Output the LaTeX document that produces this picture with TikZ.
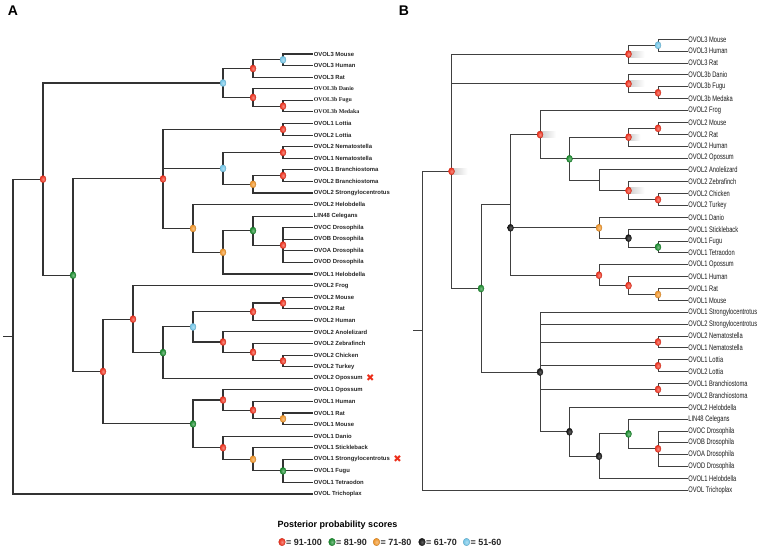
\documentclass[tikz,border=0pt]{standalone}
\usepackage{fontspec}
\setmainfont{Liberation Sans}
\newfontfamily\timesfam{Liberation Serif}
\newfontfamily\narrowfam[FakeStretch=0.72]{Liberation Sans}
\newfontfamily\symfam{DejaVu Sans}
\usetikzlibrary{positioning,shapes.geometric}
\definecolor{c91}{RGB}{236,45,25}
\definecolor{c81}{RGB}{20,135,40}
\definecolor{c71}{RGB}{238,145,35}
\definecolor{c61}{RGB}{20,20,20}
\definecolor{c51}{RGB}{110,195,230}
\tikzset{
  pp/.style={ellipse,inner sep=0pt,minimum width=6pt,minimum height=7.2pt},
  gloss/.style={pp,inner color=#1!55!white,outer color=#1,draw=#1!80!black,line width=0.3pt},
  p91/.style={gloss=c91},
  p81/.style={gloss=c81},
  p71/.style={gloss=c71},
  p61/.style={gloss=c61,inner color=black!62},
  p51/.style={gloss=c51},
  legdot/.style={minimum width=6.6pt,minimum height=7.6pt},
  leafA/.style={anchor=west,inner sep=0.6pt,text=black!85,font=\fontsize{5.9}{6}\selectfont\bfseries},
  leafAs/.style={leafA,font=\fontsize{5.9}{6}\timesfam\bfseries},
  leafB/.style={anchor=west,inner sep=0.6pt,text=black!90,font=\fontsize{8}{8}\narrowfam},
  edgeA/.style={line width=1.1pt,draw=black!80},
  edgeB/.style={line width=0.95pt,draw=black!75},
  glow/.style={left color=black!20,right color=white},
  panel/.style={font=\fontsize{14}{14}\selectfont\bfseries},
  legtitle/.style={font=\fontsize{9}{9}\selectfont\bfseries},
  legtext/.style={inner sep=0.5pt,font=\fontsize{9}{9}\selectfont\bfseries,text=black!85},
  xmark/.style={inner sep=0pt,text=c91,font=\fontsize{10}{10}\symfam}
}
\begin{document}
\begin{tikzpicture}[x=1pt,y=-1pt]
	\useasboundingbox (0,0) rectangle (760,555);
	\node[panel] (labA) at (13,11) {A};
	\node[panel] (labB) at (404,11) {B};
	% tree A, leaves
	\path (313,54) node[leafA] (a0) {OVOL3 Mouse}
	++(0,11.58) node[leafA] (a1) {OVOL3 Human}
	++(0,11.58) node[leafA] (a2) {OVOL3 Rat}
	++(0,11.58) node[leafAs] (a3) {OVOL3b Danio}
	++(0,11.58) node[leafAs] (a4) {OVOL3b Fugu}
	++(0,11.58) node[leafAs] (a5) {OVOL3b Medaka}
	++(0,11.58) node[leafA] (a6) {OVOL1 Lottia}
	++(0,11.58) node[leafA] (a7) {OVOL2 Lottia}
	++(0,11.58) node[leafA] (a8) {OVOL2 Nematostella}
	++(0,11.58) node[leafA] (a9) {OVOL1 Nematostella}
	++(0,11.58) node[leafA] (a10) {OVOL1 Branchiostoma}
	++(0,11.58) node[leafA] (a11) {OVOL2 Branchiostoma}
	++(0,11.58) node[leafA] (a12) {OVOL2 Strongylocentrotus}
	++(0,11.58) node[leafA] (a13) {OVOL2 Helobdella}
	++(0,11.58) node[leafA] (a14) {LIN48 Celegans}
	++(0,11.58) node[leafA] (a15) {OVOC Drosophila}
	++(0,11.58) node[leafA] (a16) {OVOB Drosophila}
	++(0,11.58) node[leafA] (a17) {OVOA Drosophila}
	++(0,11.58) node[leafA] (a18) {OVOD Drosophila}
	++(0,11.58) node[leafA] (a19) {OVOL1 Helobdella}
	++(0,11.58) node[leafA] (a20) {OVOL2 Frog}
	++(0,11.58) node[leafA] (a21) {OVOL2 Mouse}
	++(0,11.58) node[leafA] (a22) {OVOL2 Rat}
	++(0,11.58) node[leafA] (a23) {OVOL2 Human}
	++(0,11.58) node[leafA] (a24) {OVOL2 Anolelizard}
	++(0,11.58) node[leafA] (a25) {OVOL2 Zebrafinch}
	++(0,11.58) node[leafA] (a26) {OVOL2 Chicken}
	++(0,11.58) node[leafA] (a27) {OVOL2 Turkey}
	++(0,11.58) node[leafA] (a28) {OVOL2 Opossum}
	++(0,11.58) node[leafA] (a29) {OVOL1 Opossum}
	++(0,11.58) node[leafA] (a30) {OVOL1 Human}
	++(0,11.58) node[leafA] (a31) {OVOL1 Rat}
	++(0,11.58) node[leafA] (a32) {OVOL1 Mouse}
	++(0,11.58) node[leafA] (a33) {OVOL1 Danio}
	++(0,11.58) node[leafA] (a34) {OVOL1 Stickleback}
	++(0,11.58) node[leafA] (a35) {OVOL1 Strongylocentrotus}
	++(0,11.58) node[leafA] (a36) {OVOL1 Fugu}
	++(0,11.58) node[leafA] (a37) {OVOL1 Tetraodon}
	++(0,11.58) node[leafA] (a38) {OVOL Trichoplax};
	\node[xmark,right=2.5pt of a28] (x28) {✖};
	\node[xmark,right=2.5pt of a35] (x35) {✖};
	% tree A, inner nodes
	\path (283,59.8) coordinate (n3m)
	(253,68.5) coordinate (n3)
	(283,106.1) coordinate (n3bf)
	(253,97.4) coordinate (n3b)
	(223,83) coordinate (n3all)
	(283,129.3) coordinate (nlot)
	(283,152.4) coordinate (nnem)
	(283,175.6) coordinate (nbra)
	(253,184.3) coordinate (nbs)
	(223,168.4) coordinate (nnb)
	(283,245.1) coordinate (ndro)
	(253,230.6) coordinate (ncel)
	(223,252.3) coordinate (nhel)
	(193,228.4) coordinate (nhel2)
	(163,178.9) coordinate (ninv)
	(283,303) coordinate (nm2)
	(253,311.7) coordinate (nmh)
	(283,360.9) coordinate (nct)
	(253,352.2) coordinate (nzf)
	(223,342) coordinate (nan)
	(193,326.9) coordinate (nmam)
	(163,352.6) coordinate (nop2)
	(133,319.1) coordinate (nfr)
	(283,418.8) coordinate (nrm1)
	(253,410.1) coordinate (nhu1)
	(223,400) coordinate (nop1)
	(283,470.9) coordinate (nfg1)
	(253,459.3) coordinate (nst1)
	(223,447.7) coordinate (nda1)
	(193,423.9) coordinate (nv1)
	(103,371.5) coordinate (nvert)
	(73,275.2) coordinate (nbil)
	(43,179.1) coordinate (nin)
	(13,336.6) coordinate (rootA)
	(3,336.6) coordinate (stubA);
	\draw[edgeA] (stubA) -- (rootA);
	\draw[edgeA] (rootA) |- (nin) (rootA) |- (a38.west);
	\draw[edgeA] (nin) |- (n3all) (nin) |- (nbil);
	\draw[edgeA] (n3all) |- (n3) (n3all) |- (n3b);
	\draw[edgeA] (n3) |- (n3m) (n3) |- (a2.west);
	\draw[edgeA] (n3m) |- (a0.west) (n3m) |- (a1.west);
	\draw[edgeA] (n3b) |- (a3.west) (n3b) |- (n3bf);
	\draw[edgeA] (n3bf) |- (a4.west) (n3bf) |- (a5.west);
	\draw[edgeA] (nbil) |- (ninv) (nbil) |- (nvert);
	\draw[edgeA] (ninv) |- (nlot) (ninv) |- (nnb) (ninv) |- (nhel2);
	\draw[edgeA] (nlot) |- (a6.west) (nlot) |- (a7.west);
	\draw[edgeA] (nnb) |- (nnem) (nnb) |- (nbs);
	\draw[edgeA] (nnem) |- (a8.west) (nnem) |- (a9.west);
	\draw[edgeA] (nbs) |- (nbra) (nbs) |- (a12.west);
	\draw[edgeA] (nbra) |- (a10.west) (nbra) |- (a11.west);
	\draw[edgeA] (nhel2) |- (a13.west) (nhel2) |- (nhel);
	\draw[edgeA] (nhel) |- (ncel) (nhel) |- (a19.west);
	\draw[edgeA] (ncel) |- (a14.west) (ncel) |- (ndro);
	\draw[edgeA] (ndro) |- (a15.west) (ndro) |- (a16.west) (ndro) |- (a17.west) (ndro) |- (a18.west);
	\draw[edgeA] (nvert) |- (nfr) (nvert) |- (nv1);
	\draw[edgeA] (nfr) |- (a20.west) (nfr) |- (nop2);
	\draw[edgeA] (nop2) |- (nmam) (nop2) |- (a28.west);
	\draw[edgeA] (nmam) |- (nmh) (nmam) |- (nan);
	\draw[edgeA] (nmh) |- (nm2) (nmh) |- (a23.west);
	\draw[edgeA] (nm2) |- (a21.west) (nm2) |- (a22.west);
	\draw[edgeA] (nan) |- (a24.west) (nan) |- (nzf);
	\draw[edgeA] (nzf) |- (a25.west) (nzf) |- (nct);
	\draw[edgeA] (nct) |- (a26.west) (nct) |- (a27.west);
	\draw[edgeA] (nv1) |- (nop1) (nv1) |- (nda1);
	\draw[edgeA] (nop1) |- (a29.west) (nop1) |- (nhu1);
	\draw[edgeA] (nhu1) |- (a30.west) (nhu1) |- (nrm1);
	\draw[edgeA] (nrm1) |- (a31.west) (nrm1) |- (a32.west);
	\draw[edgeA] (nda1) |- (a33.west) (nda1) |- (nst1);
	\draw[edgeA] (nst1) |- (a34.west) (nst1) |- (nfg1);
	\draw[edgeA] (nfg1) |- (a35.west) (nfg1) |- (a36.west) (nfg1) |- (a37.west);
	\path (n3m) node[p51] (dn3m) {}
	(n3) node[p91] (dn3) {}
	(n3bf) node[p91] (dn3bf) {}
	(n3b) node[p91] (dn3b) {}
	(n3all) node[p51] (dn3all) {}
	(nlot) node[p91] (dnlot) {}
	(nnem) node[p91] (dnnem) {}
	(nbra) node[p91] (dnbra) {}
	(nbs) node[p71] (dnbs) {}
	(nnb) node[p51] (dnnb) {}
	(ndro) node[p91] (dndro) {}
	(ncel) node[p81] (dncel) {}
	(nhel) node[p71] (dnhel) {}
	(nhel2) node[p71] (dnhel2) {}
	(ninv) node[p91] (dninv) {}
	(nm2) node[p91] (dnm2) {}
	(nmh) node[p91] (dnmh) {}
	(nct) node[p91] (dnct) {}
	(nzf) node[p91] (dnzf) {}
	(nan) node[p91] (dnan) {}
	(nmam) node[p51] (dnmam) {}
	(nop2) node[p81] (dnop2) {}
	(nfr) node[p91] (dnfr) {}
	(nrm1) node[p71] (dnrm1) {}
	(nhu1) node[p91] (dnhu1) {}
	(nop1) node[p91] (dnop1) {}
	(nfg1) node[p81] (dnfg1) {}
	(nst1) node[p71] (dnst1) {}
	(nda1) node[p91] (dnda1) {}
	(nv1) node[p81] (dnv1) {}
	(nvert) node[p91] (dnvert) {}
	(nbil) node[p81] (dnbil) {}
	(nin) node[p91] (dnin) {};
	% tree B, leaves
	\path (687.5,39.3) node[leafB] (b0) {OVOL3 Mouse}
	++(0,11.87) node[leafB] (b1) {OVOL3 Human}
	++(0,11.87) node[leafB] (b2) {OVOL3 Rat}
	++(0,11.87) node[leafB] (b3) {OVOL3b Danio}
	++(0,11.87) node[leafB] (b4) {OVOL3b Fugu}
	++(0,11.87) node[leafB] (b5) {OVOL3b Medaka}
	++(0,11.87) node[leafB] (b6) {OVOL2 Frog}
	++(0,11.87) node[leafB] (b7) {OVOL2 Mouse}
	++(0,11.87) node[leafB] (b8) {OVOL2 Rat}
	++(0,11.87) node[leafB] (b9) {OVOL2 Human}
	++(0,11.87) node[leafB] (b10) {OVOL2 Opossum}
	++(0,11.87) node[leafB] (b11) {OVOL2 Anolelizard}
	++(0,11.87) node[leafB] (b12) {OVOL2 Zebrafinch}
	++(0,11.87) node[leafB] (b13) {OVOL2 Chicken}
	++(0,11.87) node[leafB] (b14) {OVOL2 Turkey}
	++(0,11.87) node[leafB] (b15) {OVOL1 Danio}
	++(0,11.87) node[leafB] (b16) {OVOL1 Stickleback}
	++(0,11.87) node[leafB] (b17) {OVOL1 Fugu}
	++(0,11.87) node[leafB] (b18) {OVOL1 Tetraodon}
	++(0,11.87) node[leafB] (b19) {OVOL1 Opossum}
	++(0,11.87) node[leafB] (b20) {OVOL1 Human}
	++(0,11.87) node[leafB] (b21) {OVOL1 Rat}
	++(0,11.87) node[leafB] (b22) {OVOL1 Mouse}
	++(0,11.87) node[leafB] (b23) {OVOL1 Strongylocentrotus}
	++(0,11.87) node[leafB] (b24) {OVOL2 Strongylocentrotus}
	++(0,11.87) node[leafB] (b25) {OVOL2 Nematostella}
	++(0,11.87) node[leafB] (b26) {OVOL1 Nematostella}
	++(0,11.87) node[leafB] (b27) {OVOL1 Lottia}
	++(0,11.87) node[leafB] (b28) {OVOL2 Lottia}
	++(0,11.87) node[leafB] (b29) {OVOL1 Branchiostoma}
	++(0,11.87) node[leafB] (b30) {OVOL2 Branchiostoma}
	++(0,11.87) node[leafB] (b31) {OVOL2 Helobdella}
	++(0,11.87) node[leafB] (b32) {LIN48 Celegans}
	++(0,11.87) node[leafB] (b33) {OVOC Drosophila}
	++(0,11.87) node[leafB] (b34) {OVOB Drosophila}
	++(0,11.87) node[leafB] (b35) {OVOA Drosophila}
	++(0,11.87) node[leafB] (b36) {OVOD Drosophila}
	++(0,11.87) node[leafB] (b37) {OVOL1 Helobdella}
	++(0,11.87) node[leafB] (b38) {OVOL Trichoplax};
	% tree B, inner nodes
	\path (658,45.25) coordinate (m3m)
	(628.5,54.1) coordinate (m3)
	(658,92.75) coordinate (m3bf)
	(628.5,83.8) coordinate (m3b)
	(658,128.35) coordinate (m2mr)
	(628.5,137.2) coordinate (m2h)
	(658,199.55) coordinate (m2ct)
	(628.5,190.6) coordinate (m2zf)
	(599,180.3) coordinate (m2an)
	(569.5,158.8) coordinate (m2op)
	(540,134.6) coordinate (m2fr)
	(658,247.05) coordinate (m1ft)
	(628.5,238.1) coordinate (m1st)
	(599,227.8) coordinate (m1da)
	(658,294.5) coordinate (m1rm)
	(628.5,285.6) coordinate (m1hu)
	(599,275.2) coordinate (m1op)
	(510.5,204.9) coordinate (mvert)
	(658,342) coordinate (mnem)
	(658,365.75) coordinate (mlot)
	(658,389.45) coordinate (mbra)
	(658,448.8) coordinate (mdro)
	(628.5,433.95) coordinate (mcel)
	(599,456.2) coordinate (mhel)
	(569.5,431.75) coordinate (mhel2)
	(540,372) coordinate (minv)
	(481,288.5) coordinate (mbil)
	(451.5,171.3) coordinate (m3all)
	(422,330.85) coordinate (rootB)
	(413,330.85) coordinate (stubB);
	\shade[glow] ([yshift=3pt]m3all) rectangle ([xshift=16pt,yshift=-3pt]m3all);
	\shade[glow] ([yshift=3pt]m3) rectangle ([xshift=16pt,yshift=-3pt]m3);
	\shade[glow] ([yshift=3pt]m3b) rectangle ([xshift=16pt,yshift=-3pt]m3b);
	\shade[glow] ([yshift=3pt]m2fr) rectangle ([xshift=16pt,yshift=-3pt]m2fr);
	\shade[glow] ([yshift=3pt]m2zf) rectangle ([xshift=16pt,yshift=-3pt]m2zf);
	\shade[glow] ([yshift=3pt]m2h) rectangle ([xshift=12pt,yshift=-3pt]m2h);
	\draw[edgeB] (stubB) -- (rootB);
	\draw[edgeB] (rootB) |- (m3all) (rootB) |- (b38.west);
	\draw[edgeB] (m3all) |- (m3) (m3all) |- (m3b) (m3all) |- (mbil);
	\draw[edgeB] (m3) |- (m3m) (m3) |- (b2.west);
	\draw[edgeB] (m3m) |- (b0.west) (m3m) |- (b1.west);
	\draw[edgeB] (m3b) |- (b3.west) (m3b) |- (m3bf);
	\draw[edgeB] (m3bf) |- (b4.west) (m3bf) |- (b5.west);
	\draw[edgeB] (mbil) |- (mvert) (mbil) |- (minv);
	\draw[edgeB] (mvert) |- (m2fr) (mvert) |- (m1da) (mvert) |- (m1op);
	\draw[edgeB] (m2fr) |- (b6.west) (m2fr) |- (m2op);
	\draw[edgeB] (m2op) |- (m2h) (m2op) |- (b10.west) (m2op) |- (m2an);
	\draw[edgeB] (m2h) |- (m2mr) (m2h) |- (b9.west);
	\draw[edgeB] (m2mr) |- (b7.west) (m2mr) |- (b8.west);
	\draw[edgeB] (m2an) |- (b11.west) (m2an) |- (m2zf);
	\draw[edgeB] (m2zf) |- (b12.west) (m2zf) |- (m2ct);
	\draw[edgeB] (m2ct) |- (b13.west) (m2ct) |- (b14.west);
	\draw[edgeB] (m1da) |- (b15.west) (m1da) |- (m1st);
	\draw[edgeB] (m1st) |- (b16.west) (m1st) |- (m1ft);
	\draw[edgeB] (m1ft) |- (b17.west) (m1ft) |- (b18.west);
	\draw[edgeB] (m1op) |- (b19.west) (m1op) |- (m1hu);
	\draw[edgeB] (m1hu) |- (b20.west) (m1hu) |- (m1rm);
	\draw[edgeB] (m1rm) |- (b21.west) (m1rm) |- (b22.west);
	\draw[edgeB] (minv) |- (b23.west) (minv) |- (b24.west) (minv) |- (mnem) (minv) |- (mlot) (minv) |- (mbra) (minv) |- (mhel2);
	\draw[edgeB] (mnem) |- (b25.west) (mnem) |- (b26.west);
	\draw[edgeB] (mlot) |- (b27.west) (mlot) |- (b28.west);
	\draw[edgeB] (mbra) |- (b29.west) (mbra) |- (b30.west);
	\draw[edgeB] (mhel2) |- (b31.west) (mhel2) |- (mhel);
	\draw[edgeB] (mhel) |- (mcel) (mhel) |- (b37.west);
	\draw[edgeB] (mcel) |- (b32.west) (mcel) |- (mdro);
	\draw[edgeB] (mdro) |- (b33.west) (mdro) |- (b34.west) (mdro) |- (b35.west) (mdro) |- (b36.west);
	\path (m3m) node[p51] (dm3m) {}
	(m3) node[p91] (dm3) {}
	(m3bf) node[p91] (dm3bf) {}
	(m3b) node[p91] (dm3b) {}
	(m2mr) node[p91] (dm2mr) {}
	(m2h) node[p91] (dm2h) {}
	(m2ct) node[p91] (dm2ct) {}
	(m2zf) node[p91] (dm2zf) {}
	(m2op) node[p81] (dm2op) {}
	(m2fr) node[p91] (dm2fr) {}
	(m1ft) node[p81] (dm1ft) {}
	(m1st) node[p61] (dm1st) {}
	(m1da) node[p71] (dm1da) {}
	(m1rm) node[p71] (dm1rm) {}
	(m1hu) node[p91] (dm1hu) {}
	(m1op) node[p91] (dm1op) {}
	(mvert |- m1da) node[p61] (dmvert) {}
	(mnem) node[p91] (dmnem) {}
	(mlot) node[p91] (dmlot) {}
	(mbra) node[p91] (dmbra) {}
	(mdro) node[p91] (dmdro) {}
	(mcel) node[p81] (dmcel) {}
	(mhel) node[p61] (dmhel) {}
	(mhel2) node[p61] (dmhel2) {}
	(minv) node[p61] (dminv) {}
	(mbil) node[p81] (dmbil) {}
	(m3all) node[p91] (dm3all) {};
	% legend
	\node[legtitle] (ptitle) at (337.5,525) {Posterior probability scores};
	\node[p91,legdot] (k91) at (282,542) {};
	\node[legtext,right=0pt of k91] (t91) {= 91-100};
	\node[p81,legdot] (k81) at (332,542) {};
	\node[legtext,right=0pt of k81] (t81) {= 81-90};
	\node[p71,legdot] (k71) at (376.5,542) {};
	\node[legtext,right=0pt of k71] (t71) {= 71-80};
	\node[p61,legdot] (k61) at (422,542) {};
	\node[legtext,right=0pt of k61] (t61) {= 61-70};
	\node[p51,legdot] (k51) at (466.5,542) {};
	\node[legtext,right=0pt of k51] (t51) {= 51-60};
\end{tikzpicture}
\end{document}
